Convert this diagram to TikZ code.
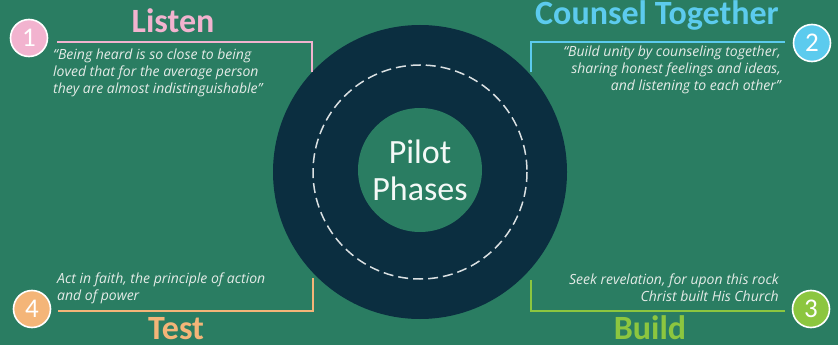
\documentclass[tikz,border=0pt]{standalone}
\usepackage{fontspec}
\setmainfont{Carlito}
\newfontfamily\quotefont{Open Sans}
\begin{document}
\begin{tikzpicture}[x=1pt,y=-1pt,
  quote/.style={font=\quotefont\itshape\fontsize{14}{17}\selectfont, text=quotegray, inner sep=0pt},
  ttl/.style={font=\bfseries\fontsize{34}{36}\selectfont, inner sep=0pt},
  num/.style={circle, draw=white, line width=1.6pt, minimum size=37pt, inner sep=0pt, text=white, font=\fontsize{27}{27}\selectfont},
  bracket/.style={line width=1.3pt}]
\definecolor{bg}{HTML}{2A7D62}
\definecolor{ring}{HTML}{0B2E40}
\definecolor{quotegray}{HTML}{E4EBE7}
\definecolor{cpink}{HTML}{F2B3CF}
\definecolor{ccyan}{HTML}{5CCBEE}
\definecolor{cgreen}{HTML}{8CC63F}
\definecolor{ctan}{HTML}{F4B578}
\fill[bg] (0,0) rectangle (838,345);
\useasboundingbox (0,0) rectangle (838,345);
% central rings
\fill[ring] (420,172) circle (147);
\draw[white!85!ring, line width=1.5pt, dash pattern=on 10pt off 5pt] (420,172) circle (107);
\node[circle, fill=bg, minimum size=124pt, inner sep=0pt, text=white!95!bg,
  font=\fontsize{34}{37}\selectfont, align=center] (center) at (420,170) {Pilot\\Phases};
% numbered circles
\node[num, fill=cpink] (n1) at (29,38) {1};
\node[num, fill=ccyan] (n2) at (812,43) {2};
\node[num, fill=cgreen] (n3) at (811,309) {3};
\node[num, fill=ctan] (n4) at (32,309) {4};
% titles
\node[ttl, text=cpink, anchor=base] (t1) at (173,33) {Listen};
\node[ttl, text=ccyan, anchor=base] (t2) at (657,25) {Counsel Together};
\node[ttl, text=cgreen, anchor=base] (t3) at (650,339) {Build};
\node[ttl, text=ctan, anchor=base] (t4) at (176,339) {Test};
% brackets
\coordinate (b1a) at (57,42); \coordinate (b1b) at (312,42); \coordinate (b1c) at (312,72);
\draw[bracket, cpink] (b1a) -- (b1b) -- (b1c);
\coordinate (b2a) at (785,42); \coordinate (b2b) at (531,42); \coordinate (b2c) at (531,72);
\draw[bracket, ccyan] (b2a) -- (b2b) -- (b2c);
\coordinate (b3a) at (785,311); \coordinate (b3b) at (531,311); \coordinate (b3c) at (531,280);
\draw[bracket, cgreen] (b3a) -- (b3b) -- (b3c);
\coordinate (b4a) at (58,311); \coordinate (b4b) at (313,311); \coordinate (b4c) at (313,278);
\draw[bracket, ctan] (b4a) -- (b4b) -- (b4c);
% quotes
\node[quote, anchor=north west, align=left] (q1) at (53,49)
  {“Being heard is so close to being\\loved that for the average person\\they are almost indistinguishable”};
\node[quote, anchor=north east, align=right] (q2) at (781,46)
  {“Build unity by counseling together,\\sharing honest feelings and ideas,\\and listening to each other”};
\node[quote, anchor=north east, align=right] (q3) at (779,274)
  {Seek revelation, for upon this rock\\Christ built His Church};
\node[quote, anchor=north west, align=left] (q4) at (57,273)
  {Act in faith, the principle of action\\and of power};
\end{tikzpicture}
\end{document}
